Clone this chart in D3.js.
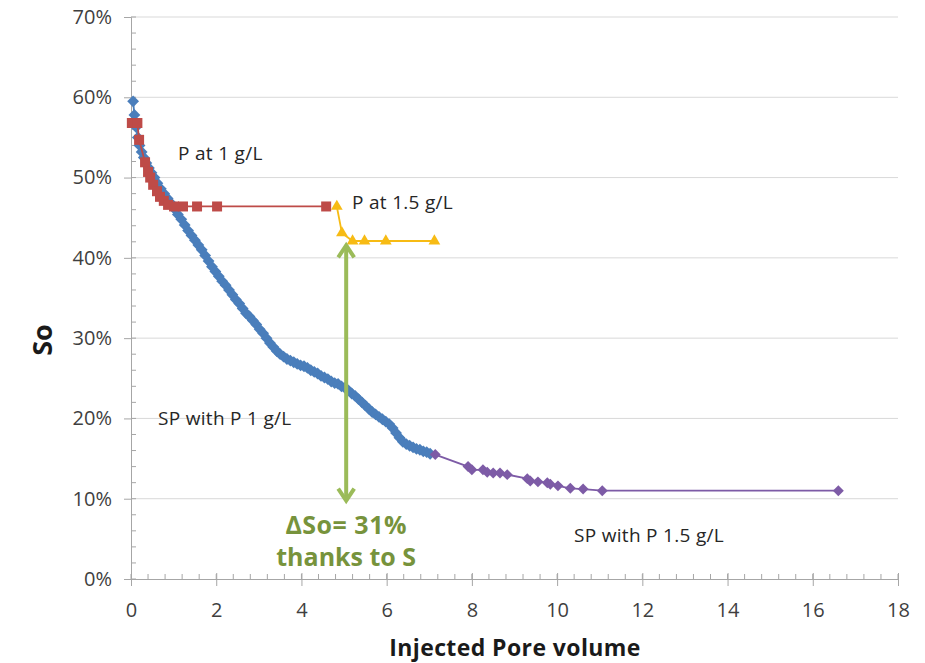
<!DOCTYPE html>
<html>
<head>
<meta charset="utf-8">
<script src="https://cdn.jsdelivr.net/npm/d3@7"></script>
<style>
  body { margin: 0; background: #fff; }
  text { font-family: "Open Sans", sans-serif; }
</style>
</head>
<body>
<div id="chart"></div>
<script>
// SP with P 1 g/L (blue diamonds) - [pore volume, So %]
const spP1 = [
  [0.05,59.5],[0.08,57.8],[0.12,56.3],[0.16,55.0],[0.20,54.0],[0.25,53.2],[0.30,52.5],[0.36,51.8],
  [0.42,51.2],[0.48,50.6],[0.55,50.0],[0.62,49.3],[0.70,48.6],[0.78,48.0],[0.86,47.4],[0.94,46.8],
  [1.02,46.1],[1.10,45.4],[1.18,44.8],[1.26,44.1],[1.34,43.4],[1.42,42.8],[1.50,42.2],[1.58,41.6],
  [1.66,41.0],[1.74,40.3],[1.82,39.6],[1.90,38.9],[1.98,38.3],[2.06,37.7],[2.14,37.1],[2.22,36.6],
  [2.30,36.0],[2.38,35.4],[2.46,34.8],[2.54,34.3],[2.62,33.7],[2.70,33.1],[2.78,32.7],[2.86,32.2],
  [2.94,31.7],[3.02,31.1],[3.10,30.6],[3.18,30.0],[3.26,29.4],[3.34,28.9],[3.42,28.4],[3.50,28.0],
  [3.58,27.7],[3.66,27.4],[3.74,27.2],[3.82,27.0],[3.90,26.8],[3.98,26.6],[4.06,26.5],[4.14,26.3],
  [4.22,26.0],[4.30,25.8],[4.38,25.6],[4.46,25.3],[4.54,25.1],[4.62,24.9],[4.70,24.6],[4.78,24.4],
  [4.86,24.3],[4.94,24.0],[5.02,23.8],[5.10,23.5],[5.18,23.1],[5.26,22.8],[5.34,22.4],[5.42,22.0],
  [5.50,21.6],[5.58,21.2],[5.66,20.8],[5.74,20.5],[5.82,20.2],[5.90,19.9],[5.98,19.6],[6.06,19.3],
  [6.14,18.8],[6.22,18.2],[6.30,17.6],[6.38,17.1],[6.46,16.8],[6.54,16.6],[6.62,16.4],[6.70,16.2],
  [6.78,16.1],[6.86,15.9],[6.94,15.8],[7.02,15.6]
];

// P at 1 g/L (red squares)
const pP1 = [
  [0.02,56.8],[0.15,56.8],[0.19,54.7],[0.33,51.9],[0.40,50.7],[0.45,50.0],[0.52,49.1],[0.61,48.3],
  [0.68,47.6],[0.77,47.1],[0.87,46.6],[1.01,46.4],[1.22,46.4],[1.55,46.4],[2.02,46.4],[4.58,46.4]
];

// P at 1.5 g/L (yellow triangles)
const pP15 = [[4.83,46.4],[4.95,43.1],[5.20,42.1],[5.48,42.1],[5.98,42.1],[7.12,42.1]];

// SP with P 1.5 g/L (purple diamonds)
const spP15 = [
  [7.14,15.5],[7.91,14.0],[8.00,13.6],[8.26,13.6],[8.36,13.3],[8.50,13.2],[8.66,13.2],[8.83,13.0],
  [9.30,12.5],[9.37,12.2],[9.55,12.1],[9.77,12.0],[9.84,11.8],[10.02,11.6],[10.31,11.3],[10.61,11.2],
  [11.06,11.0],[16.6,11.0]
];

// delta So arrow, from / to (So %) at pore volume 5.05
const deltaArrow = { x: 5.05, from: 9.5, to: 41.8 };

const xTicks = [0, 2, 4, 6, 8, 10, 12, 14, 16, 18];
const yTicks = [0, 10, 20, 30, 40, 50, 60, 70];

const W = 925, H = 663;
const svg = d3.select("#chart").append("svg").attr("width", W).attr("height", H);

const x = d3.scaleLinear().domain([0, 18]).range([131, 898]);
const y = d3.scaleLinear().domain([0, 70]).range([579, 17]);

const axisColor = "#a6a6a6";
const labelColor = "#3f3f3f";

// grid lines
svg.append("g").selectAll("line")
  .data(yTicks.filter(d => d > 0))
  .join("line")
  .attr("x1", x(0)).attr("x2", x(18))
  .attr("y1", d => y(d)).attr("y2", d => y(d))
  .attr("stroke", "#d9d9d9").attr("stroke-width", 1);

// minor ticks
svg.append("g").selectAll("line")
  .data(d3.range(0, 70.01, 2))
  .join("line")
  .attr("x1", x(0)).attr("x2", x(0) + 5)
  .attr("y1", d => y(d)).attr("y2", d => y(d))
  .attr("stroke", axisColor);
svg.append("g").selectAll("line")
  .data(d3.range(0, 18.01, 0.4))
  .join("line")
  .attr("x1", d => x(d)).attr("x2", d => x(d))
  .attr("y1", y(0)).attr("y2", y(0) - 5)
  .attr("stroke", axisColor);

// axes
const yAxis = svg.append("g")
  .attr("transform", `translate(${x(0)},0)`)
  .call(d3.axisLeft(y).tickValues(yTicks).tickSize(7).tickPadding(12).tickFormat(d => d + "%"));
const xAxis = svg.append("g")
  .attr("transform", `translate(0,${y(0)})`)
  .call(d3.axisBottom(x).tickValues(xTicks).tickSize(7).tickPadding(17));
[yAxis, xAxis].forEach(g => {
  g.select(".domain").attr("stroke", axisColor);
  g.selectAll(".tick line").attr("stroke", axisColor);
  g.selectAll(".tick text").attr("fill", labelColor).attr("font-size", 20)
    .style("font-family", "'Open Sans', sans-serif");
});
xAxis.selectAll(".tick line").attr("y1", -6);

// series
const line = d3.line().x(d => x(d[0])).y(d => y(d[1]));

function drawSeries(data, color, symbol, size, rotate) {
  svg.append("path").datum(data)
    .attr("d", line).attr("fill", "none")
    .attr("stroke", color).attr("stroke-width", 1.8);
  svg.append("g").selectAll("path")
    .data(data)
    .join("path")
    .attr("d", d3.symbol(symbol, size))
    .attr("transform", d => `translate(${x(d[0])},${y(d[1])}) rotate(${rotate})`)
    .attr("fill", color);
}

drawSeries(spP1, "#4a7ebb", d3.symbolSquare, 70, 45);
drawSeries(pP1, "#be4b48", d3.symbolSquare, 100, 0);
drawSeries(pP15, "#f7bb14", d3.symbolTriangle, 60, 0);
drawSeries(spP15, "#7d5ba6", d3.symbolSquare, 60, 45);

// delta So arrow
const green = "#9bbb59";
const ax = x(deltaArrow.x), yTop = y(deltaArrow.to), yBot = y(deltaArrow.from);
svg.append("line")
  .attr("x1", ax).attr("x2", ax).attr("y1", yTop + 2).attr("y2", yBot - 2)
  .attr("stroke", green).attr("stroke-width", 4);
svg.append("path")
  .attr("d", `M${ax - 8},${yTop + 14} L${ax},${yTop + 2} L${ax + 8},${yTop + 14}`)
  .attr("fill", "none").attr("stroke", green).attr("stroke-width", 4)
  .attr("stroke-linejoin", "miter");
svg.append("path")
  .attr("d", `M${ax - 8},${yBot - 14} L${ax},${yBot - 2} L${ax + 8},${yBot - 14}`)
  .attr("fill", "none").attr("stroke", green).attr("stroke-width", 4)
  .attr("stroke-linejoin", "miter");

// annotations
const notes = [
  { text: "P at 1 g/L", px: 178, py: 160 },
  { text: "P at 1.5 g/L", px: 352, py: 209 },
  { text: "SP with P 1 g/L", px: 158, py: 425 },
  { text: "SP with P 1.5 g/L", px: 574, py: 542 }
];
svg.append("g").selectAll("text")
  .data(notes)
  .join("text")
  .attr("x", d => d.px).attr("y", d => d.py)
  .attr("font-size", 19).attr("letter-spacing", 0.3).attr("fill", "#262626")
  .text(d => d.text);

svg.append("text")
  .attr("x", ax).attr("y", 534)
  .attr("text-anchor", "middle").attr("font-size", 25).attr("font-weight", "bold")
  .attr("letter-spacing", 0.5).attr("fill", "#77933c")
  .text("ΔSo= 31%");
svg.append("text")
  .attr("x", ax).attr("y", 566)
  .attr("text-anchor", "middle").attr("font-size", 25).attr("font-weight", "bold")
  .attr("fill", "#77933c")
  .text("thanks to S");

// axis titles
svg.append("text")
  .attr("x", 515).attr("y", 656)
  .attr("text-anchor", "middle").attr("font-size", 23).attr("font-weight", "bold")
  .attr("letter-spacing", 0.4).attr("fill", "#1a1a1a")
  .text("Injected Pore volume");
svg.append("text")
  .attr("transform", "translate(52,340) rotate(-90)")
  .attr("text-anchor", "middle").attr("font-size", 27).attr("font-weight", "bold")
  .attr("fill", "#1a1a1a")
  .text("So");
</script>
</body>
</html>
